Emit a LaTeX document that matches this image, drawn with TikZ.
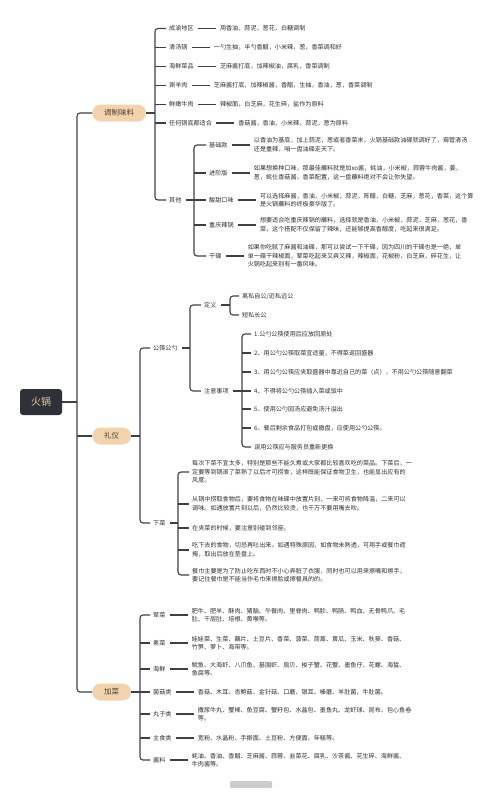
\documentclass[tikz,border=0pt]{standalone}
\usepackage{fontspec}
\setmainfont{Noto Sans CJK SC}
\usetikzlibrary{positioning}

\definecolor{linkc}{HTML}{3C4048}
\definecolor{rootbg}{HTML}{2E3238}
\definecolor{roottxt}{HTML}{EBCB9F}
\definecolor{pillbg}{HTML}{F2D3AE}
\definecolor{pilltxt}{HTML}{4F3F33}
\definecolor{txtc}{HTML}{2E2E2E}

\tikzset{
  root/.style={fill=rootbg, text=roottxt, rounded corners=3pt, minimum width=42pt, minimum height=26pt, font=\fontsize{10}{12}\selectfont},
  pill/.style={fill=pillbg, text=pilltxt, rounded corners=8.5pt, minimum height=17pt, inner xsep=12pt, inner ysep=0pt, anchor=west, font=\fontsize{7.5}{9}\selectfont},
  lbl/.style={anchor=west, inner sep=1pt, align=left, text=txtc, font=\fontsize{6.1}{8.6}\selectfont},
  leaf/.style={right=24pt of #1, align=left, inner sep=1pt, text=txtc, font=\fontsize{6.1}{8.6}\selectfont},
  link/.style={draw=linkc, line width=1.1pt},
  tie/.style={link, shorten <=3pt, shorten >=3pt},
}

\begin{document}
\begin{tikzpicture}[x=1pt, y=-1pt]
\useasboundingbox (0,0) rectangle (501,793);

% main branches
\node[root] (hg) at (41,402) {火锅};
\node[pill] (tz) at (92,113) {调制味料};
\node[pill] (ly) at (92,436) {礼仪};
\node[pill] (jc) at (92,692) {加菜};
\coordinate (trunk) at (77,402);
\draw[link] (hg.east) -- (trunk);
\draw[link, rounded corners=3pt] (tz.west) -| (trunk) |- (jc.west);
\draw[link] (ly.west -| trunk) -- (ly.west);

% 调制味料
\coordinate (tzb) at (155,113);
\node[lbl] (t1) at (168,28.5) {成渝地区};
\node[lbl] (t2) at (168,47.4) {清汤锅};
\node[lbl] (t3) at (168,66.3) {海鲜菜品};
\node[lbl] (t4) at (168,85.2) {涮羊肉};
\node[lbl] (t5) at (168,104.1) {鲜嫩牛肉};
\node[lbl] (t6) at (168,123) {任何锅底都适合};
\node[lbl] (t7) at (168,200) {其他};
\node[leaf=t1] (t1x) {用香油，蒜泥，葱花，白糖调制};
\node[leaf=t2] (t2x) {一勺生抽，半勺香醋，小米辣，葱，香菜调和好};
\node[leaf=t3] (t3x) {芝麻酱打底，加辣椒油，腐乳，香菜调制};
\node[leaf=t4] (t4x) {芝麻酱打底，加辣椒酱，香醋，生抽，香油，葱，香菜调制};
\node[leaf=t5] (t5x) {辣椒面，白芝麻，花生碎，盐作为原料};
\node[leaf=t6] (t6x) {香菇酱，香油，小米辣，蒜泥，葱为原料};
\draw[link] (tz.east) -- (tzb);
\draw[link, rounded corners=3pt] ([xshift=-2pt]t1.west) -| (tzb) |- ([xshift=-2pt]t7.west);
\foreach \c in {t2,t3,t4,t5,t6}
  \draw[link] (\c.west -| tzb) -- ([xshift=-2pt]\c.west);
\foreach \c in {t1,t2,t3,t4,t5,t6}
  \draw[tie] (\c) -- (\c x);

% 其他
\coordinate (qtb) at (194,200);
\node[lbl] (q1) at (208,145) {基础款};
\node[lbl] (q2) at (208,173) {进阶版};
\node[lbl] (q3) at (208,200) {酸甜口味};
\node[lbl] (q4) at (208,225) {重庆辣锅};
\node[lbl] (q5) at (208,256) {干碟};
\node[leaf=q1] (q1x) {以香油为基底，加上蒜泥，葱或者香菜末，火锅基础款油碟就调好了，甭管清汤\\还是重辣，咱一盘油碟走天下。};
\node[leaf=q2] (q2x) {如果想换种口味，那最佳蘸料就是加xo酱，蚝油，小米椒，蒜蓉牛肉酱，姜，\\葱，蚝仕香菇酱，香菜配置，这一盘蘸料绝对不会让你失望。};
\node[leaf=q3] (q3x) {可以选择麻酱，香油，小米椒，蒜泥，陈醋，白糖，芝麻，葱花，香菜，这个算\\是火锅蘸料的终极豪华版了。};
\node[leaf=q4] (q4x) {想要适合吃重庆辣锅的蘸料，选择就是香油，小米椒，蒜泥，芝麻，葱花，香\\菜，这个搭配不仅保留了辣味，还能够提高香醇度，吃起来很满足。};
\node[leaf=q5] (q5x) {如果你吃腻了麻酱和油碟，那可以尝试一下干碟，因为四川的干碟也是一绝，单\\单一碟干辣椒面，荤菜吃起来又爽又辣，辣椒面，花椒粉，白芝麻，碎花生，让\\火锅吃起来别有一番风味。};
\draw[tie, shorten >=0pt] (t7) -- (qtb);
\draw[link, rounded corners=3pt] ([xshift=-2pt]q1.west) -| (qtb) |- ([xshift=-2pt]q5.west);
\foreach \c in {q2,q3,q4}
  \draw[link] (\c.west -| qtb) -- ([xshift=-2pt]\c.west);
\foreach \c in {q1,q2,q3,q4,q5}
  \draw[tie] (\c) -- (\c x);

% 礼仪
\coordinate (lyb) at (140,436);
\node[lbl] (l1) at (152,348) {公筷公勺};
\node[lbl] (l2) at (152,523) {下菜};
\draw[link] (ly.east) -- (lyb);
\draw[link, rounded corners=3pt] ([xshift=-2pt]l1.west) -| (lyb) |- ([xshift=-2pt]l2.west);

% 公筷公勺
\coordinate (gkb) at (190,348);
\node[lbl] (g1) at (203,305) {定义};
\node[lbl] (g2) at (203,391) {注意事项};
\draw[tie, shorten >=0pt] (l1) -- (gkb);
\draw[link, rounded corners=3pt] ([xshift=-2pt]g1.west) -| (gkb) |- ([xshift=-2pt]g2.west);

\coordinate (dyb) at (230,305);
\node[lbl] (d1) at (241,296) {离私自公/近私远公};
\node[lbl] (d2) at (241,315) {短私长公};
\draw[tie, shorten >=0pt] (g1) -- (dyb);
\draw[link, rounded corners=3pt] ([xshift=-2pt]d1.west) -| (dyb) |- ([xshift=-2pt]d2.west);

\coordinate (zyb) at (242,391);
\node[lbl] (z1) at (253,334) {1.公勺公筷使用后应放回原处};
\node[lbl] (z2) at (253,353) {2、用公勺公筷取菜宜适量，不得菜返回盛器};
\node[lbl] (z3) at (253,372) {3、用公勺公筷应夹取盛器中靠近自己的菜（点），不用公勺公筷随意翻菜};
\node[lbl] (z4) at (253,391) {4、不得将公勺公筷插入菜或饭中};
\node[lbl] (z5) at (253,409) {5、使用公勺因汤应避免汤汁溢出};
\node[lbl] (z6) at (253,428) {6、餐后剩余食品打包或撤盘，应使用公勺公筷。};
\node[lbl] (z7) at (253,447) {误用公筷应与服务员重新更换};
\draw[tie, shorten >=0pt] (g2) -- (zyb);
\draw[link, rounded corners=3pt] ([xshift=-2pt]z1.west) -| (zyb) |- ([xshift=-2pt]z7.west);
\foreach \c in {z2,z3,z4,z5,z6}
  \draw[link] (\c.west -| zyb) -- ([xshift=-2pt]\c.west);

% 下菜
\coordinate (xcb) at (178,523);
\node[lbl] (x1) at (191,472) {每次下菜不宜太多，特别是那些不能久煮或大家都比较喜欢吃的菜品。下菜后，一\\定要等到锅滚了菜熟了以后才可捞食，这样既能保证食物卫生，也能显出应有的\\风度。};
\node[lbl] (x2) at (191,504) {从锅中捞取食物后，要将食物在味碟中放置片刻，一来可将食物降温，二来可以\\调味。如遇放置片刻以后，仍然比较烫，也千万不要用嘴去吹。};
\node[lbl] (x3) at (191,528) {在夹菜的时候，要注意别碰到邻座。};
\node[lbl] (x4) at (191,550) {吃下去的食物，切忌再吐出来。如遇特殊原因，如食物未熟透，可用手或餐巾遮\\掩，取出后放在垫盘上。};
\node[lbl] (x5) at (191,575) {餐巾主要是为了防止吃东西时不小心弄脏了衣服，同时也可以用来擦嘴和擦手，\\要记住餐巾是不能当作毛巾来擦脸或擦餐具的的。};
\draw[tie, shorten >=0pt] (l2) -- (xcb);
\draw[link, rounded corners=3pt] ([xshift=-2pt]x1.west) -| (xcb) |- ([xshift=-2pt]x5.west);
\foreach \c in {x2,x3,x4}
  \draw[link] (\c.west -| xcb) -- ([xshift=-2pt]\c.west);

% 加菜
\coordinate (jcb) at (140,692);
\node[lbl] (c1) at (152,615) {荤菜};
\node[lbl] (c2) at (152,643) {素菜};
\node[lbl] (c3) at (152,669) {海鲜};
\node[lbl] (c4) at (152,692) {菌菇类};
\node[lbl] (c5) at (152,714) {丸子类};
\node[lbl] (c6) at (152,738) {主食类};
\node[lbl] (c7) at (152,760) {酱料};
\node[leaf=c1] (c1x) {肥牛、肥羊、酥肉、猪脑、午餐肉、里脊肉、鸭胗、鸭肠、鸭血、无骨鸭爪、毛\\肚、千层肚、培根、黄喉等。};
\node[leaf=c2] (c2x) {娃娃菜、生菜、藕片、土豆片、香菜、菠菜、茼蒿、黄瓜、玉米、秋葵、香菇、\\竹笋、萝卜、海带等。};
\node[leaf=c3] (c3x) {鱿鱼、大海虾、八爪鱼、基围虾、扇贝、梭子蟹、花蟹、墨鱼仔、花螺、海蜇、\\鱼腐等。};
\node[leaf=c4] (c4x) {香菇、木耳、杏鲍菇、金针菇、口蘑、银耳、榛蘑、羊肚菌、牛肚菌。};
\node[leaf=c5] (c5x) {撒尿牛丸、蟹棒、鱼豆腐、蟹籽包、水晶包、墨鱼丸、龙虾球、昆布、包心鱼卷\\等。};
\node[leaf=c6] (c6x) {宽粉、水晶粉、手擀面、土豆粉、方便面、年糕等。};
\node[leaf=c7] (c7x) {蚝油、香油、香醋、芝麻酱、蒜蓉、韭菜花、腐乳、沙茶酱、花生碎、海鲜酱、\\牛肉酱等。};
\draw[link] (jc.east) -- (jcb);
\draw[link, rounded corners=3pt] ([xshift=-2pt]c1.west) -| (jcb) |- ([xshift=-2pt]c7.west);
\foreach \c in {c2,c3,c4,c5,c6}
  \draw[link] (\c.west -| jcb) -- ([xshift=-2pt]\c.west);
\foreach \c in {c1,c2,c3,c4,c5,c6,c7}
  \draw[tie] (\c) -- (\c x);

% badge
\fill[gray!40, rounded corners=1pt] (230,781) rectangle (272,788);
\end{tikzpicture}
\end{document}
